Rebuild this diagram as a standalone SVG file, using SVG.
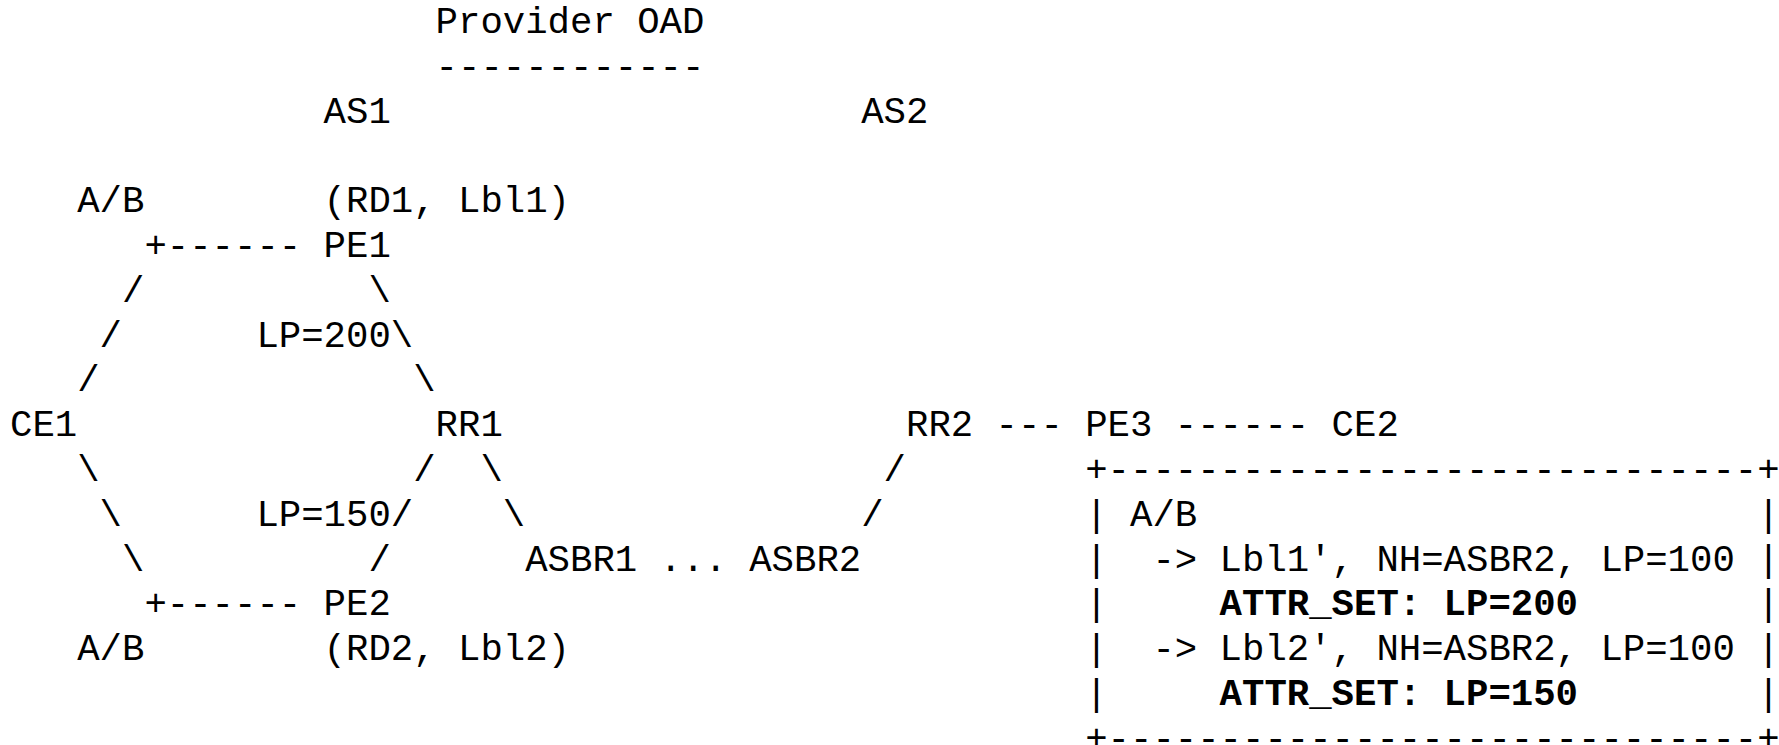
<svg xmlns="http://www.w3.org/2000/svg" width="1779" height="745" viewBox="0 0 1779 745">
<style>
text { font-family: "Courier New", "Nimbus Mono PS", "Nimbus Mono L", FreeMono, Courier, "Liberation Mono", monospace; font-size: 37.33px; fill: #000; white-space: pre; }
.b { font-weight: bold; }
</style>
<rect x="0" y="0" width="1779" height="745" fill="#fff"/>
<g id="title">
<text x="435.6" y="33">Provider OAD</text>
<text x="435.6" y="77.8">------------</text>
</g>
<g id="as-labels">
<text x="323.6" y="122.6">AS1</text>
<text x="861.2" y="122.6">AS2</text>
</g>
<g id="ce1"><text x="10" y="436.2">CE1</text></g>
<g id="pe1">
<text x="323.6" y="257">PE1</text>
<text x="77.2" y="212.2">A/B</text>
<text x="323.6" y="212.2">(RD1, Lbl1)</text>
</g>
<g id="pe2">
<text x="323.6" y="615.4">PE2</text>
<text x="77.2" y="660.2">A/B</text>
<text x="323.6" y="660.2">(RD2, Lbl2)</text>
</g>
<g id="rr1"><text x="435.6" y="436.2">RR1</text></g>
<g id="rr2"><text x="906" y="436.2">RR2</text></g>
<g id="asbr1"><text x="525.2" y="570.6">ASBR1</text></g>
<g id="asbr2"><text x="749.2" y="570.6">ASBR2</text></g>
<g id="pe3"><text x="1085.2" y="436.2">PE3</text></g>
<g id="ce2"><text x="1331.6" y="436.2">CE2</text></g>
<g id="connectors">
<text x="144.4" y="257">+------</text>
<text x="122" y="301.8">/</text>
<text x="368.4" y="301.8">\</text>
<text x="99.6" y="346.6">/</text>
<text x="256.4" y="346.6">LP=200\</text>
<text x="77.2" y="391.4">/</text>
<text x="413.2" y="391.4">\</text>
<text x="995.6" y="436.2">---</text>
<text x="1174.8" y="436.2">------</text>
<text x="77.2" y="481">\</text>
<text x="413.2" y="481">/</text>
<text x="480.4" y="481">\</text>
<text x="883.6" y="481">/</text>
<text x="99.6" y="525.8">\</text>
<text x="256.4" y="525.8">LP=150/</text>
<text x="502.8" y="525.8">\</text>
<text x="861.2" y="525.8">/</text>
<text x="122" y="570.6">\</text>
<text x="368.4" y="570.6">/</text>
<text x="659.6" y="570.6">...</text>
<text x="144.4" y="615.4">+------</text>
</g>
<g id="pe3-table">
<text x="1085.2" y="481">+-----------------------------+</text>
<text x="1085.2" y="525.8">|</text><text x="1757.2" y="525.8">|</text>
<text x="1130" y="525.8">A/B</text>
<text x="1085.2" y="570.6">|</text><text x="1757.2" y="570.6">|</text>
<text x="1152.4" y="570.6">-&gt; Lbl1', NH=ASBR2, LP=100</text>
<text x="1085.2" y="615.4">|</text><text x="1757.2" y="615.4">|</text>
<text class="b" x="1219.6" y="615.4">ATTR_SET: LP=200</text>
<text x="1085.2" y="660.2">|</text><text x="1757.2" y="660.2">|</text>
<text x="1152.4" y="660.2">-&gt; Lbl2', NH=ASBR2, LP=100</text>
<text x="1085.2" y="705">|</text><text x="1757.2" y="705">|</text>
<text class="b" x="1219.6" y="705">ATTR_SET: LP=150</text>
<text x="1085.2" y="749.8">+-----------------------------+</text>
</g>
</svg>
